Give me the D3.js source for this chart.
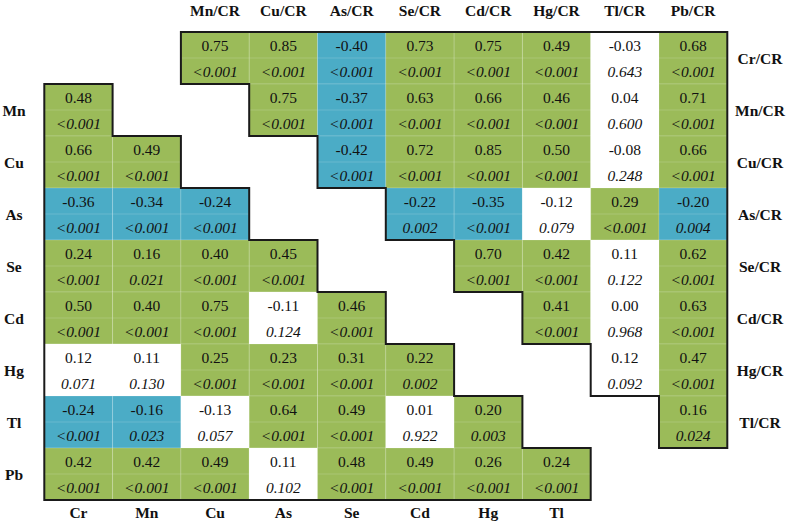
<!DOCTYPE html>
<html>
<head>
<meta charset="utf-8">
<script src="https://cdn.jsdelivr.net/npm/d3@7"></script>
<style>
  html, body { margin: 0; padding: 0; background: #ffffff; }
  svg { display: block; }
</style>
</head>
<body>
<svg id="chart" width="790" height="522"></svg>
<script>
// ---------------- DATA ----------------
const elements = ["Cr", "Mn", "Cu", "As", "Se", "Cd", "Hg", "Tl", "Pb"];

const topLabels = ["Mn/CR", "Cu/CR", "As/CR", "Se/CR", "Cd/CR", "Hg/CR", "Tl/CR", "Pb/CR"];
const rightLabels = ["Cr/CR", "Mn/CR", "Cu/CR", "As/CR", "Se/CR", "Cd/CR", "Hg/CR", "Tl/CR"];
const leftLabels = ["Mn", "Cu", "As", "Se", "Cd", "Hg", "Tl", "Pb"];
const bottomLabels = ["Cr", "Mn", "Cu", "As", "Se", "Cd", "Hg", "Tl"];

// lower triangle: row = element i (Mn..Pb), columns Cr..(i-1)
const lowerR = [
  [0.48],
  [0.66, 0.49],
  [-0.36, -0.34, -0.24],
  [0.24, 0.16, 0.40, 0.45],
  [0.50, 0.40, 0.75, -0.11, 0.46],
  [0.12, 0.11, 0.25, 0.23, 0.31, 0.22],
  [-0.24, -0.16, -0.13, 0.64, 0.49, 0.01, 0.20],
  [0.42, 0.42, 0.49, 0.11, 0.48, 0.49, 0.26, 0.24]
];
const lowerP = [
  ["<0.001"],
  ["<0.001", "<0.001"],
  ["<0.001", "<0.001", "<0.001"],
  ["<0.001", "0.021", "<0.001", "<0.001"],
  ["<0.001", "<0.001", "<0.001", "0.124", "<0.001"],
  ["0.071", "0.130", "<0.001", "<0.001", "<0.001", "0.002"],
  ["<0.001", "0.023", "0.057", "<0.001", "<0.001", "0.922", "0.003"],
  ["<0.001", "<0.001", "<0.001", "0.102", "<0.001", "<0.001", "<0.001", "<0.001"]
];

// upper triangle: row = element i/CR (Cr..Tl), columns (i+1)/CR..Pb/CR
const upperR = [
  [0.75, 0.85, -0.40, 0.73, 0.75, 0.49, -0.03, 0.68],
  [0.75, -0.37, 0.63, 0.66, 0.46, 0.04, 0.71],
  [-0.42, 0.72, 0.85, 0.50, -0.08, 0.66],
  [-0.22, -0.35, -0.12, 0.29, -0.20],
  [0.70, 0.42, 0.11, 0.62],
  [0.41, 0.00, 0.63],
  [0.12, 0.47],
  [0.16]
];
const upperP = [
  ["<0.001", "<0.001", "<0.001", "<0.001", "<0.001", "<0.001", "0.643", "<0.001"],
  ["<0.001", "<0.001", "<0.001", "<0.001", "<0.001", "0.600", "<0.001"],
  ["<0.001", "<0.001", "<0.001", "<0.001", "0.248", "<0.001"],
  ["0.002", "<0.001", "0.079", "<0.001", "0.004"],
  ["<0.001", "<0.001", "0.122", "<0.001"],
  ["<0.001", "0.968", "<0.001"],
  ["0.092", "<0.001"],
  ["0.024"]
];

// ---------------- LAYOUT ----------------
const svg = d3.select("#chart");
const nCols = 10, nRows = 9;
const x = d3.scaleBand().domain(d3.range(nCols)).range([44.3, 727.3]).padding(0);
const y = d3.scaleBand().domain(d3.range(nRows)).range([32, 500]).padding(0);
const cw = x.bandwidth(), ch = y.bandwidth();
const xEdge = c => (c >= nCols ? x.range()[1] : x(c));
const yEdge = r => (r >= nRows ? y.range()[1] : y(r));

const GREEN = "#9bbb59", BLUE = "#4bacc6", WHITE = "#ffffff";
const pNum = p => (p.startsWith("<") ? 0 : +p);
const fillFor = (r, p) => (pNum(p) > 0.05 ? WHITE : (r < 0 ? BLUE : GREEN));
const fmt = v => d3.format(".2f")(v).replace("\u2212", "-");

// build cells
const cells = [];
lowerR.forEach((row, k) => {
  const ri = k + 1;
  row.forEach((v, j) => cells.push({ row: ri, col: j, r: v, p: lowerP[k][j] }));
});
upperR.forEach((row, i) => {
  row.forEach((v, k) => {
    const j = i + 1 + k;
    cells.push({ row: i, col: j + 1, r: v, p: upperP[i][k] });
  });
});

const serif = "'Liberation Serif', 'Times New Roman', Times, serif";

const gCells = svg.append("g");
const cg = gCells.selectAll("g.cell").data(cells).join("g")
  .attr("transform", d => `translate(${x(d.col)},${y(d.row)})`);

cg.append("rect")
  .attr("width", cw).attr("height", ch)
  .attr("fill", d => fillFor(d.r, d.p))
  .attr("stroke", "rgba(255,255,255,0.16)").attr("stroke-width", 1);
cg.append("line")
  .attr("x1", 0).attr("x2", cw).attr("y1", ch / 2).attr("y2", ch / 2)
  .attr("stroke", "rgba(255,255,255,0.16)").attr("stroke-width", 1);

cg.append("text")
  .attr("x", cw / 2).attr("y", ch / 4 + 0.5)
  .attr("text-anchor", "middle").attr("dominant-baseline", "central")
  .attr("font-family", serif)
  .attr("font-size", 15.5).attr("fill", "#111")
  .text(d => fmt(d.r));
cg.append("text")
  .attr("x", cw / 2).attr("y", ch * 3 / 4 + 0.5)
  .attr("text-anchor", "middle").attr("dominant-baseline", "central")
  .attr("font-family", serif)
  .attr("font-style", "italic")
  .attr("font-size", 15.5).attr("fill", "#111")
  .text(d => d.p);

// outlines
const lowerPts = [[xEdge(0), yEdge(1)]];
for (let r = 1; r <= 8; r++) {
  lowerPts.push([xEdge(r), yEdge(r)]);
  lowerPts.push([xEdge(r), yEdge(r + 1)]);
}
lowerPts.push([xEdge(0), yEdge(9)]);

const upperPts = [[xEdge(2), yEdge(0)], [xEdge(10), yEdge(0)], [xEdge(10), yEdge(8)]];
for (let r = 7; r >= 0; r--) {
  upperPts.push([xEdge(r + 2), yEdge(r + 1)]);
  upperPts.push([xEdge(r + 2), yEdge(r)]);
}

const line = d3.line();
[lowerPts, upperPts].forEach(pts => {
  svg.append("path")
    .attr("d", line(pts) + "Z")
    .attr("fill", "none")
    .attr("stroke", "#1a1a1a").attr("stroke-width", 2)
    .attr("stroke-linejoin", "miter");
});

// labels
const lab = (sel) => sel.attr("font-family", serif).attr("font-weight", "bold")
  .attr("font-size", 15.5).attr("fill", "#111")
  .attr("text-anchor", "middle").attr("dominant-baseline", "central");

svg.append("g").selectAll("text").data(topLabels).join("text")
  .call(lab)
  .attr("x", (d, i) => x(i + 2) + cw / 2).attr("y", 10)
  .text(d => d);

svg.append("g").selectAll("text").data(rightLabels).join("text")
  .call(lab)
  .attr("x", 760).attr("y", (d, i) => y(i) + ch / 2)
  .text(d => d);

svg.append("g").selectAll("text").data(leftLabels).join("text")
  .call(lab)
  .attr("x", 14).attr("y", (d, i) => y(i + 1) + ch / 2)
  .text(d => d);

svg.append("g").selectAll("text").data(bottomLabels).join("text")
  .call(lab)
  .attr("x", (d, i) => x(i) + cw / 2).attr("y", 512)
  .text(d => d);
</script>
</body>
</html>
